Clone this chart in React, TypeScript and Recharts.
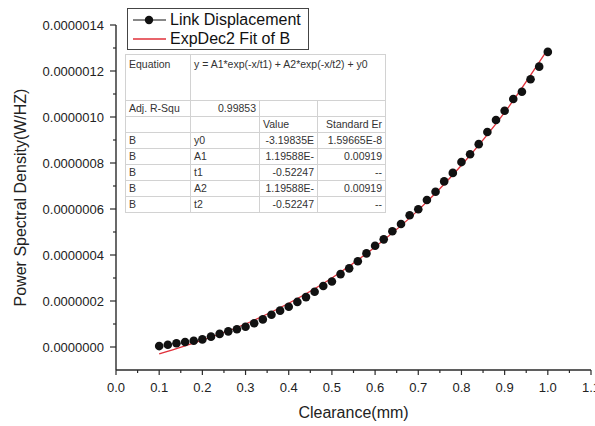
import { ComposedChart, Scatter, Line, XAxis, YAxis, Legend } from "recharts";

const FONT = '"Liberation Sans", Arial, sans-serif';
const AXIS = "#2a2a2a";
const FIT_RED = "#e0303a";

// clearance (mm) for each measured point
const clearance = [
  0.1, 0.12, 0.14, 0.16, 0.18, 0.2, 0.22, 0.24, 0.26, 0.28, 0.3, 0.32, 0.34, 0.36, 0.38, 0.4,
  0.42, 0.44, 0.46, 0.48, 0.5, 0.52, 0.54, 0.56, 0.58, 0.6, 0.62, 0.64, 0.66, 0.68, 0.7, 0.72,
  0.74, 0.76, 0.78, 0.8, 0.82, 0.84, 0.86, 0.88, 0.9, 0.92, 0.94, 0.96, 0.98, 1.0,
];

// PSD in units of 1e-6 W/Hz
const linkDisplacement = [
  0.004, 0.01, 0.016, 0.022, 0.027, 0.033, 0.045, 0.057, 0.068, 0.077, 0.088, 0.103, 0.12, 0.14,
  0.158, 0.175, 0.196, 0.217, 0.24, 0.265, 0.285, 0.317, 0.342, 0.373, 0.407, 0.44, 0.468, 0.503,
  0.535, 0.573, 0.599, 0.639, 0.675, 0.72, 0.757, 0.804, 0.838, 0.882, 0.935, 0.987, 1.027, 1.078,
  1.11, 1.164, 1.219, 1.283,
];

// ExpDec2 fit
const fitClearance = [0.1, 0.2, 0.3, 0.4, 0.5, 0.6, 0.7, 0.8, 0.9, 1.0];
const fitValues = [-0.03, 0.03, 0.1, 0.19, 0.3, 0.435, 0.595, 0.79, 1.02, 1.295];

const xTicks = [
  0, 0.05, 0.1, 0.15, 0.2, 0.25, 0.3, 0.35, 0.4, 0.45, 0.5, 0.55, 0.6, 0.65, 0.7, 0.75, 0.8, 0.85,
  0.9, 0.95, 1.0, 1.05, 1.1,
];
const yTicks = [0, 0.1, 0.2, 0.3, 0.4, 0.5, 0.6, 0.7, 0.8, 0.9, 1.0, 1.1, 1.2, 1.3, 1.4];

const tableRows = [
  ["B", "y0", "-3.19835E", "1.59665E-8"],
  ["B", "A1", "1.19588E-", "0.00919"],
  ["B", "t1", "-0.52247", "--"],
  ["B", "A2", "1.19588E-", "0.00919"],
  ["B", "t2", "-0.52247", "--"],
];

const scatterData = clearance.map((x, i) => ({ x, y: linkDisplacement[i] }));
const fitData = fitClearance.map((x, i) => ({ x, y: fitValues[i] }));

function XTick({ x, y, payload }: any) {
  const v = payload.value as number;
  const major = Math.abs(v * 10 - Math.round(v * 10)) < 1e-6;
  return (
    <g>
      <line x1={x} x2={x} y1={y} y2={y + (major ? 5 : 3)} stroke={AXIS} strokeWidth={1.2} />
      {major && (
        <text x={x} y={y + 22} textAnchor="middle" fontSize={13} fontFamily={FONT} fill="#222">
          {v.toFixed(1)}
        </text>
      )}
    </g>
  );
}

function YTick({ x, y, payload }: any) {
  const v = payload.value as number;
  const major = Math.round(v * 10) % 2 === 0;
  return (
    <g>
      <line x1={x - (major ? 6 : 3)} x2={x} y1={y} y2={y} stroke={AXIS} strokeWidth={1.2} />
      {major && (
        <text x={x - 12} y={y} dy="0.35em" textAnchor="end" fontSize={13} fontFamily={FONT} fill="#222">
          {(v / 1e6).toFixed(7)}
        </text>
      )}
    </g>
  );
}

function LegendBox() {
  const row = { display: "flex", alignItems: "center", height: 19 } as const;
  return (
    <div
      style={{
        border: "1px solid #444",
        background: "#fff",
        width: 176,
        padding: "1px 0 1px 4px",
        fontFamily: FONT,
        fontSize: 16,
        color: "#111",
        lineHeight: "19px",
      }}
    >
      <div style={row}>
        <svg width={36} height={12}>
          <line x1={1} x2={34} y1={6} y2={6} stroke="#111" strokeWidth={1} />
          <circle cx={17} cy={6} r={4.2} fill="#111" />
        </svg>
        <span style={{ marginLeft: 2 }}>Link Displacement</span>
      </div>
      <div style={row}>
        <svg width={36} height={12}>
          <line x1={1} x2={34} y1={6} y2={6} stroke={FIT_RED} strokeWidth={1.3} />
        </svg>
        <span style={{ marginLeft: 2 }}>ExpDec2 Fit of B</span>
      </div>
    </div>
  );
}

function FitTable() {
  const cell = {
    border: "1px solid #d2d2d2",
    padding: "0 3px",
    height: 15,
    lineHeight: "15px",
    whiteSpace: "nowrap",
    overflow: "hidden",
  } as const;
  const right = { ...cell, textAlign: "right" } as const;
  return (
    <table
      style={{
        position: "absolute",
        left: 125,
        top: 54,
        borderCollapse: "collapse",
        tableLayout: "fixed",
        width: 260,
        background: "#fff",
        fontFamily: FONT,
        fontSize: 10.5,
        color: "#333",
        border: "1px solid #b8b8b8",
      }}
    >
      <colgroup>
        <col style={{ width: 65 }} />
        <col style={{ width: 69 }} />
        <col style={{ width: 58 }} />
        <col style={{ width: 68 }} />
      </colgroup>
      <tbody>
        <tr>
          <td style={{ ...cell, height: 43, verticalAlign: "top", paddingTop: 2 }}>Equation</td>
          <td colSpan={3} style={{ ...cell, height: 43, verticalAlign: "top", paddingTop: 2 }}>
            y = A1*exp(-x/t1) + A2*exp(-x/t2) + y0
          </td>
        </tr>
        <tr>
          <td style={cell}>Adj. R-Squ</td>
          <td style={right}>0.99853</td>
          <td style={cell}></td>
          <td style={cell}></td>
        </tr>
        <tr>
          <td style={cell}></td>
          <td style={cell}></td>
          <td style={cell}>Value</td>
          <td style={right}>Standard Er</td>
        </tr>
        {tableRows.map((r, i) => (
          <tr key={i}>
            <td style={cell}>{r[0]}</td>
            <td style={cell}>{r[1]}</td>
            <td style={right}>{r[2]}</td>
            <td style={right}>{r[3]}</td>
          </tr>
        ))}
      </tbody>
    </table>
  );
}

export default function App() {
  return (
    <div style={{ position: "absolute", left: 0, top: 0, width: 595, height: 426, background: "#fff", overflow: "hidden" }}>
      <ComposedChart width={595} height={426} margin={{ top: 25, right: 4, left: 0, bottom: 0 }}>
        <XAxis
          type="number"
          dataKey="x"
          domain={[0, 1.1]}
          ticks={xTicks}
          interval={0}
          height={56}
          tickSize={0}
          tickMargin={0}
          tickLine={false}
          axisLine={{ stroke: AXIS, strokeWidth: 1.4 }}
          tick={<XTick />}
          label={{
            value: "Clearance(mm)",
            position: "insideBottom",
            offset: 8,
            style: { fontFamily: FONT, fontSize: 16, fill: "#222" },
          }}
        />
        <YAxis
          type="number"
          dataKey="y"
          domain={[-0.1, 1.4]}
          ticks={yTicks}
          interval={0}
          width={116}
          tickSize={0}
          tickMargin={0}
          tickLine={false}
          axisLine={{ stroke: AXIS, strokeWidth: 1.4 }}
          tick={<YTick />}
          label={{
            value: "Power Spectral Density(W/HZ)",
            angle: -90,
            position: "insideLeft",
            offset: 20,
            style: { fontFamily: FONT, fontSize: 16, fill: "#222", textAnchor: "middle" },
          }}
        />
        <Legend
          layout="vertical"
          align="center"
          verticalAlign="middle"
          content={<LegendBox />}
          wrapperStyle={{ position: "absolute", left: 127, top: 8, width: "auto" }}
        />
        <Scatter
          name="Link Displacement"
          data={scatterData}
          dataKey="y"
          fill="#111"
          isAnimationActive={false}
          shape={(p: any) => <circle cx={p.cx} cy={p.cy} r={4.3} fill="#111" />}
        />
        <Line
          name="ExpDec2 Fit of B"
          data={fitData}
          dataKey="y"
          type="monotone"
          stroke={FIT_RED}
          strokeWidth={1.3}
          dot={false}
          isAnimationActive={false}
        />
      </ComposedChart>
      <FitTable />
    </div>
  );
}
